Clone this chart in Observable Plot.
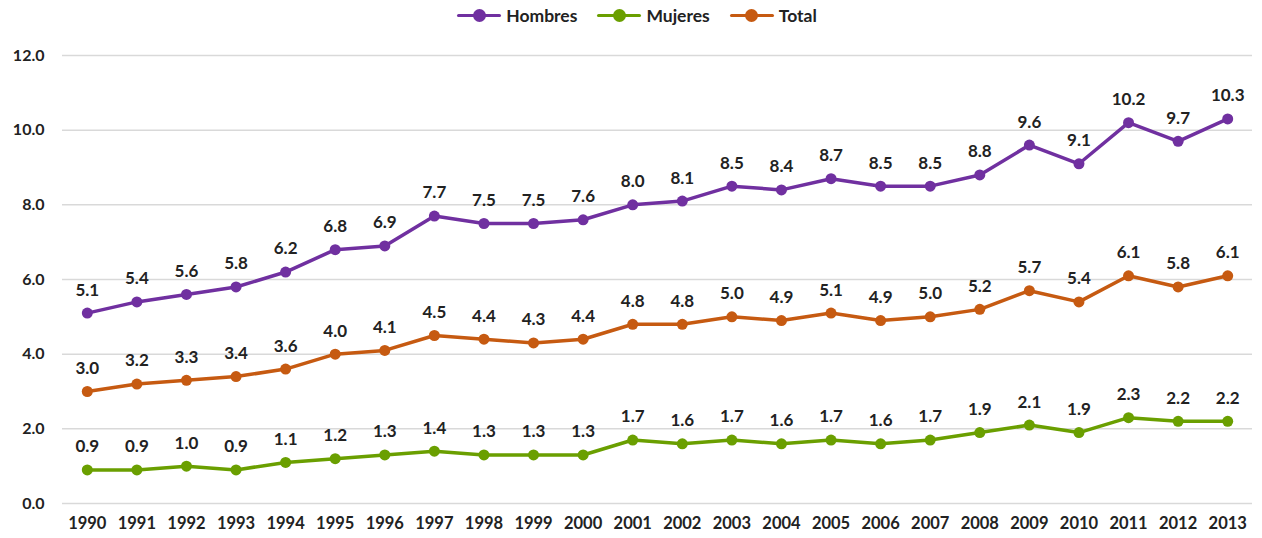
<!DOCTYPE html>
<html>
<head>
<meta charset="utf-8">
<script src="https://cdn.jsdelivr.net/npm/d3@7"></script>
<script src="https://cdn.jsdelivr.net/npm/@observablehq/plot@0.6"></script>
<style>
  html, body { margin: 0; padding: 0; background: #fff; }
  body { width: 1262px; height: 538px; overflow: hidden; font-family: Lato, "Open Sans", sans-serif; }
  #legend { height: 30px; display: flex; justify-content: center; align-items: center; gap: 20px; font-weight: 700; font-size: 17.5px; color: #222; padding-left: 12px; box-sizing: border-box; }
  .item { display: flex; align-items: center; gap: 5px; }
  .sw { position: relative; width: 44px; height: 13px; }
  .sw .ln { position: absolute; left: 0; right: 0; top: 5px; height: 3.5px; border-radius: 2px; }
  .sw .dt { position: absolute; left: 15.5px; top: 0; width: 13px; height: 13px; border-radius: 50%; }
</style>
</head>
<body>
<div id="legend"></div>
<div id="chart"></div>
<script>
const years = [1990,1991,1992,1993,1994,1995,1996,1997,1998,1999,2000,2001,2002,2003,2004,2005,2006,2007,2008,2009,2010,2011,2012,2013];
const hombres = [5.1,5.4,5.6,5.8,6.2,6.8,6.9,7.7,7.5,7.5,7.6,8.0,8.1,8.5,8.4,8.7,8.5,8.5,8.8,9.6,9.1,10.2,9.7,10.3];
const mujeres = [0.9,0.9,1.0,0.9,1.1,1.2,1.3,1.4,1.3,1.3,1.3,1.7,1.6,1.7,1.6,1.7,1.6,1.7,1.9,2.1,1.9,2.3,2.2,2.2];
const total   = [3.0,3.2,3.3,3.4,3.6,4.0,4.1,4.5,4.4,4.3,4.4,4.8,4.8,5.0,4.9,5.1,4.9,5.0,5.2,5.7,5.4,6.1,5.8,6.1];
const seriesNames = ["Hombres","Mujeres","Total"];
const seriesColors = ["#7030A0","#6A9F00","#C65A11"];
const yTicks = [0,2,4,6,8,10,12];

const seriesValues = [hombres, mujeres, total];
const data = [];
seriesNames.forEach((s, i) => years.forEach((y, j) => data.push({year: y, value: seriesValues[i][j], series: s})));

// legend
const leg = document.getElementById("legend");
seriesNames.forEach((s, i) => {
  const it = document.createElement("div");
  it.className = "item";
  it.innerHTML = `<div class="sw"><div class="ln" style="background:${seriesColors[i]}"></div><div class="dt" style="background:${seriesColors[i]}"></div></div><span>${s}</span>`;
  leg.appendChild(it);
});

const fmt = d3.format(".1f");
const chart = Plot.plot({
  width: 1262,
  height: 508,
  marginLeft: 62,
  marginRight: 10,
  marginTop: 25,
  marginBottom: 35,
  style: {fontFamily: "Lato, 'Open Sans', sans-serif", fontWeight: 700, fontSize: "15px", color: "#222"},
  x: {type: "point", domain: years, padding: 0.5, round: false, label: null},
  y: {domain: [0, 12], label: null},
  color: {domain: seriesNames, range: seriesColors},
  marks: [
    Plot.gridY(yTicks, {stroke: "#d9d9d9", strokeOpacity: 1, strokeWidth: 1.5}),
    Plot.axisY(yTicks, {tickSize: 0, tickPadding: 18, tickFormat: fmt, fontSize: 16, fontWeight: 700, fill: "#222"}),
    Plot.axisX(years, {tickSize: 0, tickPadding: 14, tickFormat: d => String(d), fontSize: 16.5, fontWeight: 700, fill: "#222"}),
    Plot.line(data, {x: "year", y: "value", z: "series", stroke: "series", strokeWidth: 3.5}),
    Plot.dot(data, {x: "year", y: "value", fill: "series", r: 5.5}),
    Plot.text(data, {x: "year", y: "value", text: d => fmt(d.value), dy: -23, fontSize: 17, fontWeight: 700, fill: "#222"})
  ]
});
document.getElementById("chart").appendChild(chart);
</script>
</body>
</html>
